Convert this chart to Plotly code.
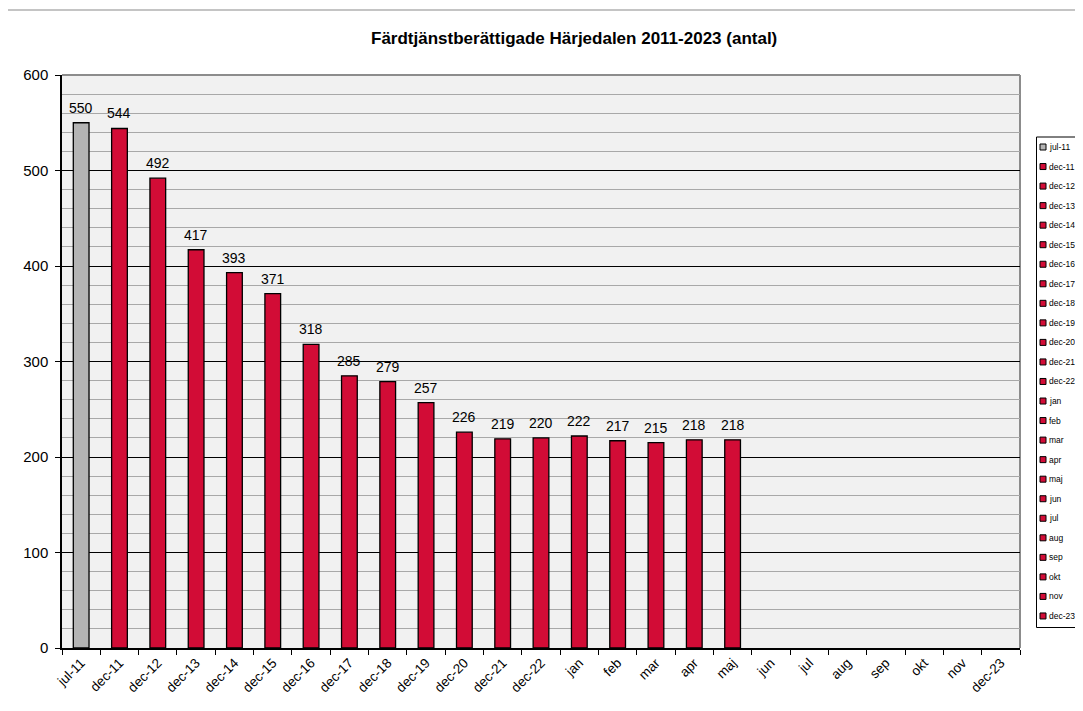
import plotly.graph_objects as go

categories = ["jul-11", "dec-11", "dec-12", "dec-13", "dec-14", "dec-15", "dec-16",
              "dec-17", "dec-18", "dec-19", "dec-20", "dec-21", "dec-22", "jan", "feb",
              "mar", "apr", "maj", "jun", "jul", "aug", "sep", "okt", "nov", "dec-23"]
values = [550, 544, 492, 417, 393, 371, 318, 285, 279, 257, 226, 219, 220, 222,
          217, 215, 218, 218, None, None, None, None, None, None, None]
y_ticks = [0, 100, 200, 300, 400, 500, 600]

RED = "#D20C36"
GRAY = "#B4B4B4"
FONT = "Arial, Liberation Sans, sans-serif"

# page offset (body margin) compensation
OFF = 8
W, H = 1083 - OFF, 711 - OFF
PL, PR, PT, PB = 62, 1020, 75, 648  # plot area in page pixels
L, T = PL - OFF, PT - OFF
R, B = W - (PR - OFF), H - (PB - OFF)
pw, ph = PR - PL, PB - PT

def px_x(p):
    return (p - PL) / pw

def px_y(p):
    return (PB - p) / ph

colors = [GRAY if i == 0 else RED for i in range(len(categories))]

fig = go.Figure()
for c, v, col in zip(categories, values, colors):
    fig.add_trace(go.Bar(
        x=[c], y=[v], name=c,
        marker=dict(color=col, line=dict(color="black", width=1.3)),
        width=0.41, showlegend=False,
    ))

annotations = []
for c, v in zip(categories, values):
    if v is None:
        continue
    annotations.append(dict(x=c, y=v, xref="x", yref="y", text=str(v),
                            showarrow=False, yanchor="bottom", yshift=5,
                            font=dict(size=14, family=FONT, color="black")))

# legend (drawn manually to match the original compact legend)
shapes = [
    dict(type="line", xref="paper", yref="paper", x0=0, x1=1, y0=1, y1=1,
         line=dict(color="#8C8C8C", width=2), layer="below"),
    dict(type="line", xref="paper", yref="paper", x0=1, x1=1, y0=0, y1=1,
         line=dict(color="#8C8C8C", width=2), layer="below"),
    dict(type="line", xref="paper", yref="paper", x0=px_x(7), x1=px_x(1090),
         y0=px_y(10), y1=px_y(10), line=dict(color="#B0B0B0", width=1.5)),
    dict(type="line", xref="paper", yref="paper", x0=px_x(7), x1=px_x(7),
         y0=px_y(10), y1=px_y(720), line=dict(color="#B0B0B0", width=1.5)),
    dict(type="rect", xref="paper", yref="paper", x0=px_x(1036.5), x1=px_x(1082),
         y0=px_y(627.5), y1=px_y(137), line=dict(color="black", width=1),
         fillcolor="white"),
]
top_item, step = 147, 19.54
for i, (c, col) in enumerate(zip(categories, colors)):
    yc = top_item + i * step
    shapes.append(dict(type="rect", xref="paper", yref="paper",
                       x0=px_x(1040), x1=px_x(1046), y0=px_y(yc + 3), y1=px_y(yc - 3),
                       fillcolor=col, line=dict(color="black", width=1)))
    annotations.append(dict(x=px_x(1046.5), y=px_y(yc), xref="paper", yref="paper",
                            text=c, showarrow=False, xanchor="left", yanchor="middle",
                            font=dict(size=8.5, family=FONT, color="black")))

annotations.append(dict(x=px_x(573.5), y=px_y(38.5), xref="paper", yref="paper",
                        text="<b>Färdtjänstberättigade Härjedalen 2011-2023 (antal)</b>",
                        showarrow=False, xanchor="center", yanchor="middle",
                        font=dict(size=17, family=FONT, color="black")))

fig.update_layout(
    width=W, height=H,
    margin=dict(l=L, r=R, t=T, b=B, autoexpand=False),
    paper_bgcolor="white", plot_bgcolor="#F1F1F1",
    barmode="overlay",
    font=dict(family=FONT, color="black"),
    showlegend=False,
    xaxis=dict(categoryorder="array", categoryarray=categories,
               range=[-0.5, len(categories) - 0.5],
               tickangle=-45, tickfont=dict(size=13.5, family=FONT),
               showline=True, linecolor="black", linewidth=1.5,
               ticks="outside", ticklen=5, tickcolor="black", tickson="boundaries",
               showgrid=False, zeroline=False, fixedrange=True),
    yaxis=dict(range=[0, 600], tickvals=y_ticks, tickfont=dict(size=15, family=FONT),
               showline=True, linecolor="black", linewidth=1.5,
               ticks="outside", ticklen=5, tickcolor="black", ticklabelstandoff=4,
               showgrid=True, gridcolor="black", gridwidth=1,
               minor=dict(dtick=20, showgrid=True, gridcolor="#A8A8A8", gridwidth=1),
               zeroline=False, fixedrange=True),
    shapes=shapes,
    annotations=annotations,
)

fig.write_html("out.html")
